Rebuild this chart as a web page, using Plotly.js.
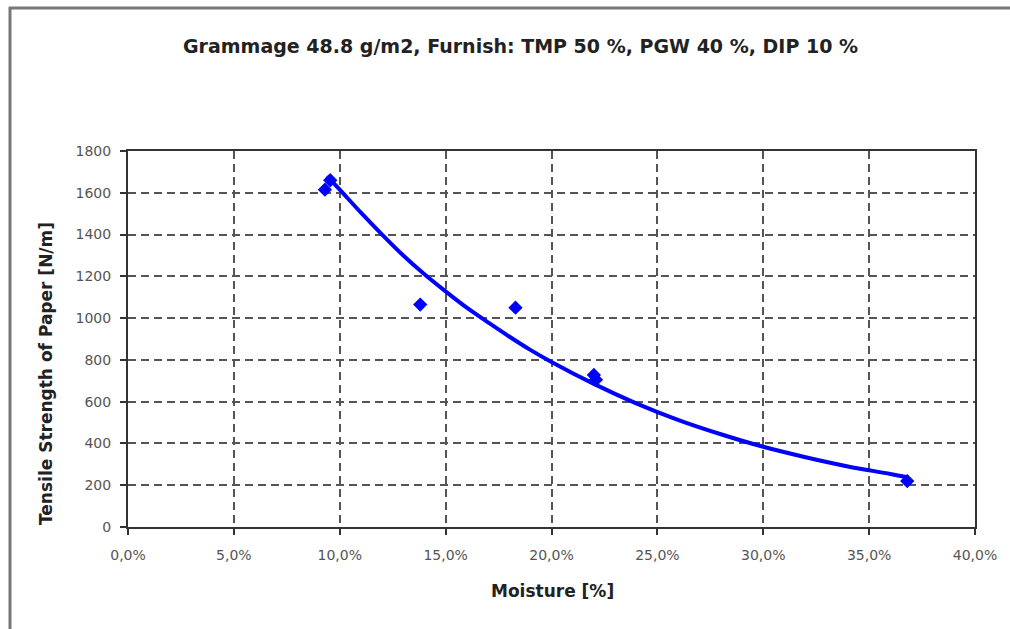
<!DOCTYPE html>
<html>
<head>
<meta charset="utf-8">
<script src="https://cdn.plot.ly/plotly-3.0.1.min.js"></script>
<style>
  html, body { margin: 0; padding: 0; background: #ffffff; }
  #chart { width: 1010px; height: 629px; }
</style>
</head>
<body>
<div id="chart"></div>
<script>
// Measured data points (moisture as fraction, tensile strength N/m)
const moisture = [0.093, 0.0955, 0.138, 0.183, 0.220, 0.221, 0.368];
const tensile  = [1615, 1660, 1065, 1050, 728, 705, 220];

// Trendline
const trendMoisture = [0.094, 0.10, 0.11, 0.12, 0.13, 0.14, 0.15, 0.16, 0.17, 0.18, 0.19, 0.20, 0.22, 0.24, 0.26, 0.28, 0.30, 0.32, 0.34, 0.36, 0.368];
const trendTensile  = [1680, 1615, 1505, 1400, 1300, 1210, 1128, 1050, 980, 912, 848, 790, 685, 592, 512, 444, 384, 334, 290, 254, 238];

const titleText = "Grammage 48.8 g/m2, Furnish: TMP 50 %, PGW 40 %, DIP 10 %";
const xTitle = "Moisture [%]";
const yTitle = "Tensile Strength of Paper [N/m]";

const W = 1010, H = 629;
const L = 128, R = 35, T = 151, B = 102;
const pw = W - L - R, ph = H - T - B;
const px = v => (v - L) / pw;        // pixel x -> paper x
const py = v => (H - B - v) / ph;    // pixel y -> paper y

const traces = [
  {
    x: trendMoisture, y: trendTensile, type: 'scatter', mode: 'lines',
    line: { color: '#0000ff', width: 4, shape: 'spline' },
    hoverinfo: 'skip', showlegend: false
  },
  {
    x: moisture, y: tensile, type: 'scatter', mode: 'markers',
    marker: { symbol: 'diamond', size: 11, color: '#0000ff' },
    showlegend: false
  }
];

const tickFont = { family: 'DejaVu Sans, Arial, sans-serif', size: 14, color: '#555' };
const boldFont = (s) => ({ family: 'DejaVu Sans, Arial, sans-serif', size: s, color: '#222', weight: 'bold' });

const layout = {
  width: W, height: H,
  margin: { l: L, r: R, t: T, b: B },
  paper_bgcolor: '#ffffff', plot_bgcolor: '#ffffff',
  separators: ', ',
  showlegend: false,
  xaxis: {
    range: [0, 0.4], dtick: 0.05, tick0: 0, tickformat: '.1%',
    showgrid: true, gridcolor: '#555', gridwidth: 2, griddash: '8px,5px',
    showline: true, linecolor: '#333', linewidth: 2, mirror: true,
    ticks: 'outside', ticklen: 6, tickcolor: '#333', tickwidth: 2,
    tickfont: tickFont, zeroline: false, ticklabelstandoff: 8
  },
  yaxis: {
    range: [0, 1800], dtick: 200, tick0: 0,
    showgrid: true, gridcolor: '#555', gridwidth: 2, griddash: '8px,5px',
    showline: true, linecolor: '#333', linewidth: 2, mirror: true,
    ticks: 'outside', ticklen: 6, tickcolor: '#333', tickwidth: 2,
    tickfont: tickFont, zeroline: false, ticklabelstandoff: 6
  },
  annotations: [
    { text: '<b>' + titleText + '</b>', xref: 'paper', yref: 'paper',
      x: px(520), y: py(46), xanchor: 'center', yanchor: 'middle',
      showarrow: false, font: boldFont(19) },
    { text: '<b>' + xTitle + '</b>', xref: 'paper', yref: 'paper',
      x: px(552), y: py(591), xanchor: 'center', yanchor: 'middle',
      showarrow: false, font: boldFont(17) },
    { text: '<b>' + yTitle + '</b>', xref: 'paper', yref: 'paper',
      x: px(46), y: py(374), xanchor: 'center', yanchor: 'middle',
      textangle: -90, showarrow: false, font: boldFont(17) }
  ],
  shapes: [
    { type: 'line', xref: 'paper', yref: 'paper',
      x0: px(10), x1: px(10), y0: py(7), y1: py(H + 5),
      line: { color: '#777', width: 3 } },
    { type: 'line', xref: 'paper', yref: 'paper',
      x0: px(9), x1: px(W + 5), y0: py(8), y1: py(8),
      line: { color: '#777', width: 3 } }
  ]
};

Plotly.newPlot('chart', traces, layout, { staticPlot: true, displayModeBar: false });
</script>
</body>
</html>
